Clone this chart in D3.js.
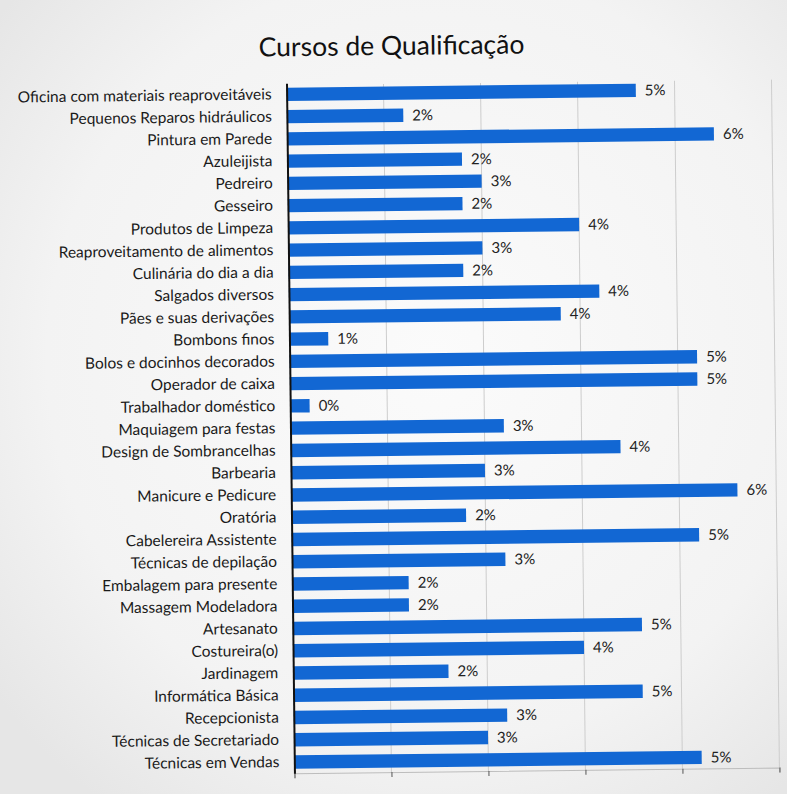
<!DOCTYPE html>
<html>
<head>
<meta charset="utf-8">
<script src="https://cdn.jsdelivr.net/npm/d3@7"></script>
<style>
  html, body { margin: 0; padding: 0; background: #f4f4f4; }
  svg { display: block; }
</style>
</head>
<body>
<svg id="chart" width="787" height="794"></svg>
<script>
// ---- Data ----
const title = "Cursos de Qualificação";
const categories = [
  "Oficina com materiais reaproveitáveis",
  "Pequenos Reparos hidráulicos",
  "Pintura em Parede",
  "Azuleijista",
  "Pedreiro",
  "Gesseiro",
  "Produtos de Limpeza",
  "Reaproveitamento de alimentos",
  "Culinária do dia a dia",
  "Salgados diversos",
  "Pães e suas derivações",
  "Bombons finos",
  "Bolos e docinhos decorados",
  "Operador de caixa",
  "Trabalhador doméstico",
  "Maquiagem para festas",
  "Design de Sombrancelhas",
  "Barbearia",
  "Manicure e Pedicure",
  "Oratória",
  "Cabelereira Assistente",
  "Técnicas de depilação",
  "Embalagem para presente",
  "Massagem Modeladora",
  "Artesanato",
  "Costureira(o)",
  "Jardinagem",
  "Informática Básica",
  "Recepcionista",
  "Técnicas de Secretariado",
  "Técnicas em Vendas"
];
const counts = [18, 6, 22, 9, 10, 9, 15, 10, 9, 16, 14, 2, 21, 21, 1, 11, 17, 10, 23, 9, 21, 11, 6, 6, 18, 15, 8, 18, 11, 10, 21];
const xTicks = [0, 5, 10, 15, 20, 25];

// ---- Layout ----
const W = 787, H = 794;
const margin = { left: 290.5, right: 11.5, top: 82, bottom: 22 };
const svg = d3.select("#chart");

const defs = svg.append("defs");
const grad = defs.append("radialGradient").attr("id", "bg")
  .attr("cx", "55%").attr("cy", "45%").attr("r", "70%");
grad.append("stop").attr("offset", "0%").attr("stop-color", "#fbfbfb");
grad.append("stop").attr("offset", "70%").attr("stop-color", "#f3f3f3");
grad.append("stop").attr("offset", "100%").attr("stop-color", "#e6e6e6");
svg.append("rect").attr("width", W).attr("height", H).attr("fill", "url(#bg)");

const g = svg.append("g").attr("transform", "rotate(-0.66, 394, 430)");

const total = d3.sum(counts);
const x = d3.scaleLinear().domain([0, 25]).range([margin.left, W - margin.right]);
const y = d3.scaleBand().domain(categories).range([margin.top, H - margin.bottom]).paddingInner(0.4).paddingOuter(0.2);

const font = "Lato, 'Open Sans', sans-serif";

// Title
g.append("text")
  .attr("x", 396).attr("y", 55)
  .attr("text-anchor", "middle")
  .attr("font-family", font)
  .attr("font-size", 26.5)
  .attr("fill", "#111")
  .text(title);

// Gridlines
g.append("g")
  .selectAll("line")
  .data(xTicks.slice(1))
  .join("line")
  .attr("x1", d => x(d)).attr("x2", d => x(d))
  .attr("y1", margin.top + 2).attr("y2", H - margin.bottom)
  .attr("stroke", "#cdcdcd").attr("stroke-width", 1);

// Bottom axis (ticks only, no labels)
const xAxis = g.append("g")
  .attr("transform", `translate(0,${H - margin.bottom})`)
  .call(d3.axisBottom(x).tickValues(xTicks).tickSize(5).tickFormat(""));
xAxis.select(".domain").attr("stroke", "#bdbdbd");
xAxis.selectAll(".tick line").attr("stroke", "#555");

// Bars
g.append("g")
  .selectAll("rect")
  .data(counts)
  .join("rect")
  .attr("x", x(0))
  .attr("y", (d, i) => y(categories[i]))
  .attr("width", d => x(d) - x(0))
  .attr("height", y.bandwidth())
  .attr("fill", "#1267d3");

// Data labels
const pct = d3.format(".0%");
g.append("g")
  .selectAll("text")
  .data(counts)
  .join("text")
  .attr("x", d => x(d) + 9)
  .attr("y", (d, i) => y(categories[i]) + y.bandwidth() / 2)
  .attr("dy", "0.35em")
  .attr("font-family", font)
  .attr("font-size", 15)
  .attr("fill", "#222")
  .text(d => pct(d / total));

// Left axis (category labels)
const yAxis = g.append("g")
  .attr("transform", `translate(${x(0)},0)`)
  .call(d3.axisLeft(y).tickSize(0).tickPadding(15));
yAxis.select(".domain").attr("stroke", "#111").attr("stroke-width", 2);
yAxis.selectAll(".tick text")
  .attr("font-family", font)
  .attr("font-size", 15.5)
  .attr("fill", "#1a1a1a");
</script>
</body>
</html>
